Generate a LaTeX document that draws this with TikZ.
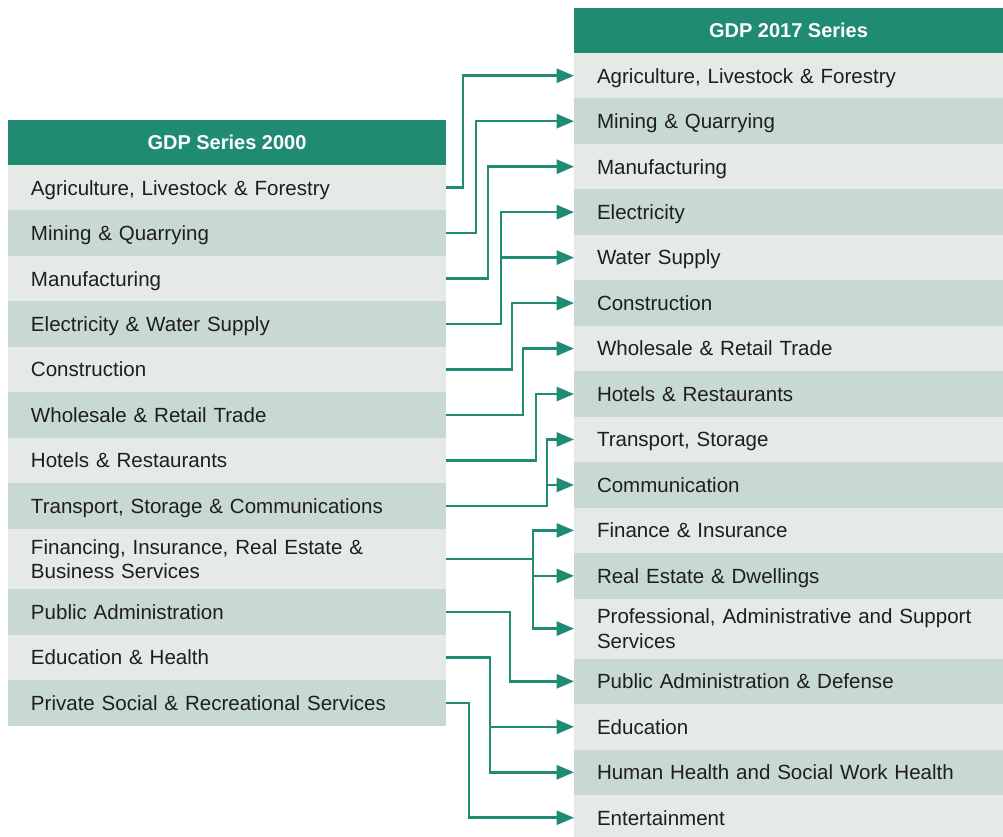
\documentclass[tikz,border=0pt]{standalone}
\usepackage{fontspec}
\setmainfont{Liberation Sans}
\usepackage{xcolor}
\usepackage{tikz}
\usetikzlibrary{positioning, arrows.meta}
\definecolor{gdpgreen}{HTML}{1F8B73}
\definecolor{rowlight}{HTML}{E5EAE7}
\definecolor{rowdark}{HTML}{C8D9D3}
\definecolor{rowtext}{HTML}{1E1E1E}
\tikzstyle{header} = [rectangle, fill=gdpgreen, text=white, minimum height=33.75pt, inner sep=0pt, outer sep=0pt, text centered, font=\fontsize{15}{18}\selectfont\bfseries]
\tikzstyle{row} = [rectangle, minimum height=34.1pt, inner xsep=17.25pt, inner ysep=0pt, outer sep=0pt, align=left, text=rowtext, text height=11pt, text depth=0pt, font=\fontsize{15.4}{18.5}\selectfont]
\tikzstyle{tworow} = [text height=11pt, text depth=18.5pt]
\tikzstyle{oldrow} = [row, text width=294pt]
\tikzstyle{newrow} = [row, text width=287.25pt]
\tikzstyle{light} = [fill=rowlight]
\tikzstyle{dark} = [fill=rowdark]
\tikzstyle{arrow} = [draw=gdpgreen, line width=1.9pt, -{Triangle[length=13pt, width=10.5pt]}]

\begin{document}
\begin{tikzpicture}
\useasboundingbox (0,0) rectangle (752.25pt,-627pt);

% GDP Series 2000 table
\node (lhead) [header, minimum width=328.5pt, anchor=north west] at (6pt,-90pt) {GDP Series 2000};
\node (l1) [oldrow, light, below=0pt of lhead] {Agriculture, Livestock \& Forestry};
\node (l2) [oldrow, dark, below=0pt of l1] {Mining \& Quarrying};
\node (l3) [oldrow, light, below=0pt of l2] {Manufacturing};
\node (l4) [oldrow, dark, below=0pt of l3] {Electricity \& Water Supply};
\node (l5) [oldrow, light, below=0pt of l4] {Construction};
\node (l6) [oldrow, dark, below=0pt of l5] {Wholesale \& Retail Trade};
\node (l7) [oldrow, light, below=0pt of l6] {Hotels \& Restaurants};
\node (l8) [oldrow, dark, below=0pt of l7] {Transport, Storage \& Communications};
\node (l9) [oldrow, light, tworow, minimum height=45.5pt, below=0pt of l8] {Financing, Insurance, Real Estate \&\\Business Services};
\node (l10) [oldrow, dark, below=0pt of l9] {Public Administration};
\node (l11) [oldrow, light, below=0pt of l10] {Education \& Health};
\node (l12) [oldrow, dark, below=0pt of l11] {Private Social \& Recreational Services};

% GDP 2017 Series table
\node (rhead) [header, minimum width=321.75pt, anchor=north west] at (430.5pt,-6pt) {GDP 2017 Series};
\node (r1) [newrow, light, below=0pt of rhead] {Agriculture, Livestock \& Forestry};
\node (r2) [newrow, dark, below=0pt of r1] {Mining \& Quarrying};
\node (r3) [newrow, light, below=0pt of r2] {Manufacturing};
\node (r4) [newrow, dark, below=0pt of r3] {Electricity};
\node (r5) [newrow, light, below=0pt of r4] {Water Supply};
\node (r6) [newrow, dark, below=0pt of r5] {Construction};
\node (r7) [newrow, light, below=0pt of r6] {Wholesale \& Retail Trade};
\node (r8) [newrow, dark, below=0pt of r7] {Hotels \& Restaurants};
\node (r9) [newrow, light, below=0pt of r8] {Transport, Storage};
\node (r10) [newrow, dark, below=0pt of r9] {Communication};
\node (r11) [newrow, light, below=0pt of r10] {Finance \& Insurance};
\node (r12) [newrow, dark, below=0pt of r11] {Real Estate \& Dwellings};
\node (r13) [newrow, light, tworow, minimum height=45pt, below=0pt of r12] {Professional, Administrative and Support\\Services};
\node (r14) [newrow, dark, below=0pt of r13] {Public Administration \& Defense};
\node (r15) [newrow, light, below=0pt of r14] {Education};
\node (r16) [newrow, dark, below=0pt of r15] {Human Health and Social Work Health};
\node (r17) [newrow, light, below=0pt of r16] {Entertainment};

% Drawing arrows
\draw [arrow] (l1.east) -- ++(12.75pt,0) |- (r1.west);
\draw [arrow] (l2.east) -- ++(22.5pt,0) |- (r2.west);
\draw [arrow] (l3.east) -- ++(31.5pt,0) |- (r3.west);
\draw [arrow] (l4.east) -- ++(41.25pt,0) coordinate (b4) |- (r4.west);
\draw [arrow] (b4) |- (r5.west);
\draw [arrow] (l5.east) -- ++(49.5pt,0) |- (r6.west);
\draw [arrow] (l6.east) -- ++(57.75pt,0) |- (r7.west);
\draw [arrow] (l7.east) -- ++(67.5pt,0) |- (r8.west);
\draw [arrow] (l8.east) -- ++(75.75pt,0) coordinate (b8) |- (r9.west);
\draw [arrow] (b8) |- (r10.west);
\draw [arrow] (l9.east) -- ++(65.25pt,0) coordinate (b9) |- (r11.west);
\draw [arrow] (b9) |- (r12.west);
\draw [arrow] (b9) |- (r13.west);
\draw [arrow] (l10.east) -- ++(48pt,0) |- (r14.west);
\draw [arrow] (l11.east) -- ++(33pt,0) coordinate (b11) |- (r15.west);
\draw [arrow] (b11) |- (r16.west);
\draw [arrow] (l12.east) -- ++(17.25pt,0) |- (r17.west);

\end{tikzpicture}
\end{document}
